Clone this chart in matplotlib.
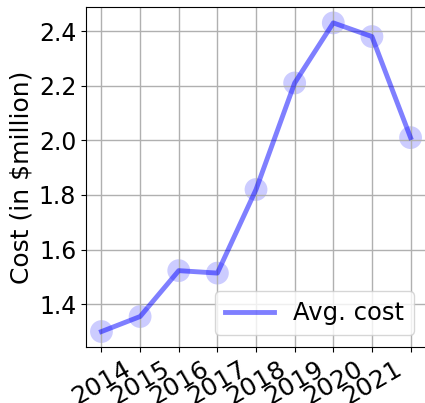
import matplotlib
matplotlib.use("Agg")
import matplotlib.pyplot as plt

# average cost per year, in $million
positions = [0, 1, 2, 3, 4, 5, 6, 7, 8]
avg_cost = [1.30, 1.355, 1.523, 1.514, 1.82, 2.21, 2.43, 2.38, 2.01]
year_labels = ["2014", "2015", "2016", "2017", "2018", "2019", "2020", "2021", ""]

plt.rcParams["font.size"] = 17

fig = plt.figure(figsize=(4.25, 4.03), dpi=100)
ax = fig.add_axes([0.2024, 0.139, 0.80, 0.8425])

ax.plot(positions, avg_cost, color="blue", alpha=0.5, linewidth=3.5, label="Avg. cost")
ax.scatter(positions, avg_cost, s=270, color="blue", alpha=0.2, edgecolors="none")

ax.set_xticks(positions)
ax.set_xticklabels(year_labels, rotation=30, fontsize=18)
ax.set_yticks([1.4, 1.6, 1.8, 2.0, 2.2, 2.4])
ax.tick_params(axis="y", labelsize=17)
ax.set_ylabel("Cost (in $million)", fontsize=18)
ax.grid(True, linewidth=1.0)
ax.legend(loc="lower right", fontsize=17.5)

fig.savefig("out.png", dpi=100)
